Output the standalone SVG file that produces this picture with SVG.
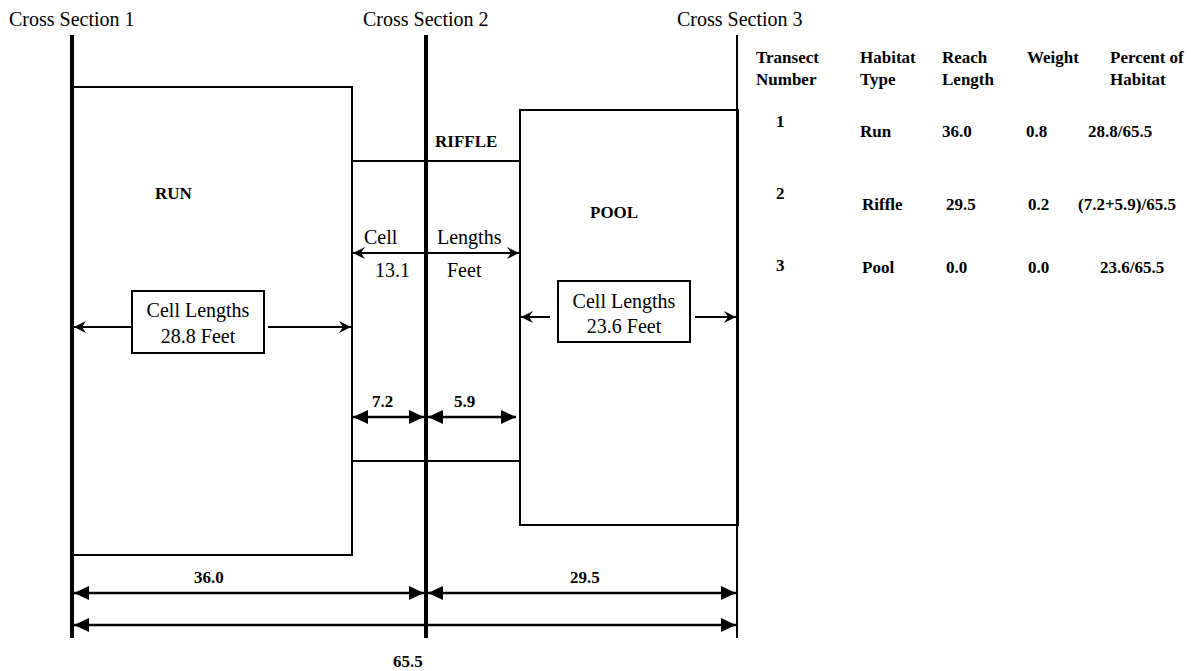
<svg xmlns="http://www.w3.org/2000/svg" width="1191" height="671" viewBox="0 0 1191 671">
<style>
.reg{font-family:"Liberation Serif","Times New Roman",serif;font-size:20px;fill:#000}
.b{font-family:"Liberation Serif","Times New Roman",serif;font-size:17px;font-weight:bold;fill:#000}
.cs{stroke:#000;stroke-width:4;fill:none}
.box{stroke:#000;stroke-width:2;fill:none}
.thin{stroke:#000;stroke-width:2;fill:none}
.dim{stroke:#000;stroke-width:2.5;fill:none}
</style>
<defs>
<marker id="barb" markerUnits="userSpaceOnUse" markerWidth="12" markerHeight="12" viewBox="0 0 12 12" refX="12" refY="6" orient="auto-start-reverse">
<path d="M0,0 L12,6 L0,12 L4,6 z" fill="#000"/>
</marker>
<marker id="tri" markerUnits="userSpaceOnUse" markerWidth="15" markerHeight="14" viewBox="0 0 15 14" refX="15" refY="7" orient="auto-start-reverse">
<path d="M0,0 L15,7 L0,14 z" fill="#000"/>
</marker>
</defs>
<rect width="1191" height="671" fill="#fff"/>

<g id="cross-section-1">
<line class="cs" x1="72" y1="35" x2="72" y2="638"/>
<text class="reg" x="9" y="26">Cross Section 1</text>
</g>
<g id="cross-section-2">
<line class="cs" x1="426" y1="35" x2="426" y2="638"/>
<text class="reg" x="363" y="26">Cross Section 2</text>
</g>
<g id="cross-section-3">
<line class="thin" x1="737" y1="35" x2="737" y2="638"/>
<text class="reg" x="677" y="26">Cross Section 3</text>
</g>

<g id="run">
<polyline class="box" points="72,87 352,87 352,555 72,555"/>
<text class="b" x="155" y="199">RUN</text>
</g>
<g id="riffle">
<line class="box" x1="352" y1="161" x2="520" y2="161"/>
<line class="box" x1="352" y1="461" x2="520" y2="461"/>
<text class="b" x="435" y="147">RIFFLE</text>
</g>
<g id="pool">
<rect class="box" x="520" y="110" width="218" height="415"/>
<line class="box" x1="738" y1="110" x2="738" y2="525" stroke-width="3"/>
<text class="b" x="590" y="218">POOL</text>
</g>

<g id="run-cell-box">
<rect class="box" x="132" y="291" width="132" height="62"/>
<text class="reg" x="198" y="317" text-anchor="middle">Cell Lengths</text>
<text class="reg" x="198" y="343" text-anchor="middle">28.8 Feet</text>
</g>
<g id="pool-cell-box">
<rect class="box" x="558" y="281" width="132" height="61"/>
<text class="reg" x="624" y="308" text-anchor="middle">Cell Lengths</text>
<text class="reg" x="624" y="333" text-anchor="middle">23.6 Feet</text>
</g>

<g id="labels">
<text class="reg" x="364" y="244">Cell</text>
<text class="reg" x="437" y="244">Lengths</text>
<text class="reg" x="375" y="277">13.1</text>
<text class="reg" x="447" y="277">Feet</text>
<text class="b" x="372" y="407">7.2</text>
<text class="b" x="454" y="407">5.9</text>
<text class="b" x="194" y="583">36.0</text>
<text class="b" x="570" y="583">29.5</text>
<text class="b" x="393" y="667">65.5</text>
</g>

<g id="connectors">
<line class="thin" x1="132" y1="327" x2="74" y2="327" marker-end="url(#barb)"/>
<line class="thin" x1="268" y1="327" x2="351" y2="327" marker-end="url(#barb)"/>
<line class="thin" x1="353" y1="253" x2="519" y2="253" marker-start="url(#barb)" marker-end="url(#barb)"/>
<line class="thin" x1="550" y1="317" x2="521" y2="317" marker-end="url(#barb)"/>
<line class="thin" x1="695" y1="317" x2="736" y2="317" marker-end="url(#barb)"/>
<line class="dim" x1="353" y1="417" x2="424" y2="417" marker-start="url(#tri)" marker-end="url(#tri)"/>
<line class="dim" x1="428" y1="417" x2="516" y2="417" marker-start="url(#tri)" marker-end="url(#tri)"/>
<line class="dim" x1="74" y1="593" x2="424" y2="593" marker-start="url(#tri)" marker-end="url(#tri)"/>
<line class="dim" x1="428" y1="593" x2="736" y2="593" marker-start="url(#tri)" marker-end="url(#tri)"/>
<line class="dim" x1="74" y1="625" x2="736" y2="625" marker-start="url(#tri)" marker-end="url(#tri)"/>
</g>

<g id="table">
<text class="b" x="756" y="63">Transect</text>
<text class="b" x="756" y="85">Number</text>
<text class="b" x="860" y="63">Habitat</text>
<text class="b" x="860" y="85">Type</text>
<text class="b" x="942" y="63">Reach</text>
<text class="b" x="942" y="85">Length</text>
<text class="b" x="1027" y="63">Weight</text>
<text class="b" x="1110" y="63">Percent of</text>
<text class="b" x="1110" y="85">Habitat</text>
<text class="b" x="776" y="127">1</text>
<text class="b" x="860" y="137">Run</text>
<text class="b" x="942" y="137">36.0</text>
<text class="b" x="1026" y="137">0.8</text>
<text class="b" x="1088" y="137">28.8/65.5</text>
<text class="b" x="776" y="199">2</text>
<text class="b" x="862" y="210">Riffle</text>
<text class="b" x="946" y="210">29.5</text>
<text class="b" x="1028" y="210">0.2</text>
<text class="b" x="1078" y="210">(7.2+5.9)/65.5</text>
<text class="b" x="776" y="271">3</text>
<text class="b" x="862" y="273">Pool</text>
<text class="b" x="946" y="273">0.0</text>
<text class="b" x="1028" y="273">0.0</text>
<text class="b" x="1100" y="273">23.6/65.5</text>
</g>
</svg>
